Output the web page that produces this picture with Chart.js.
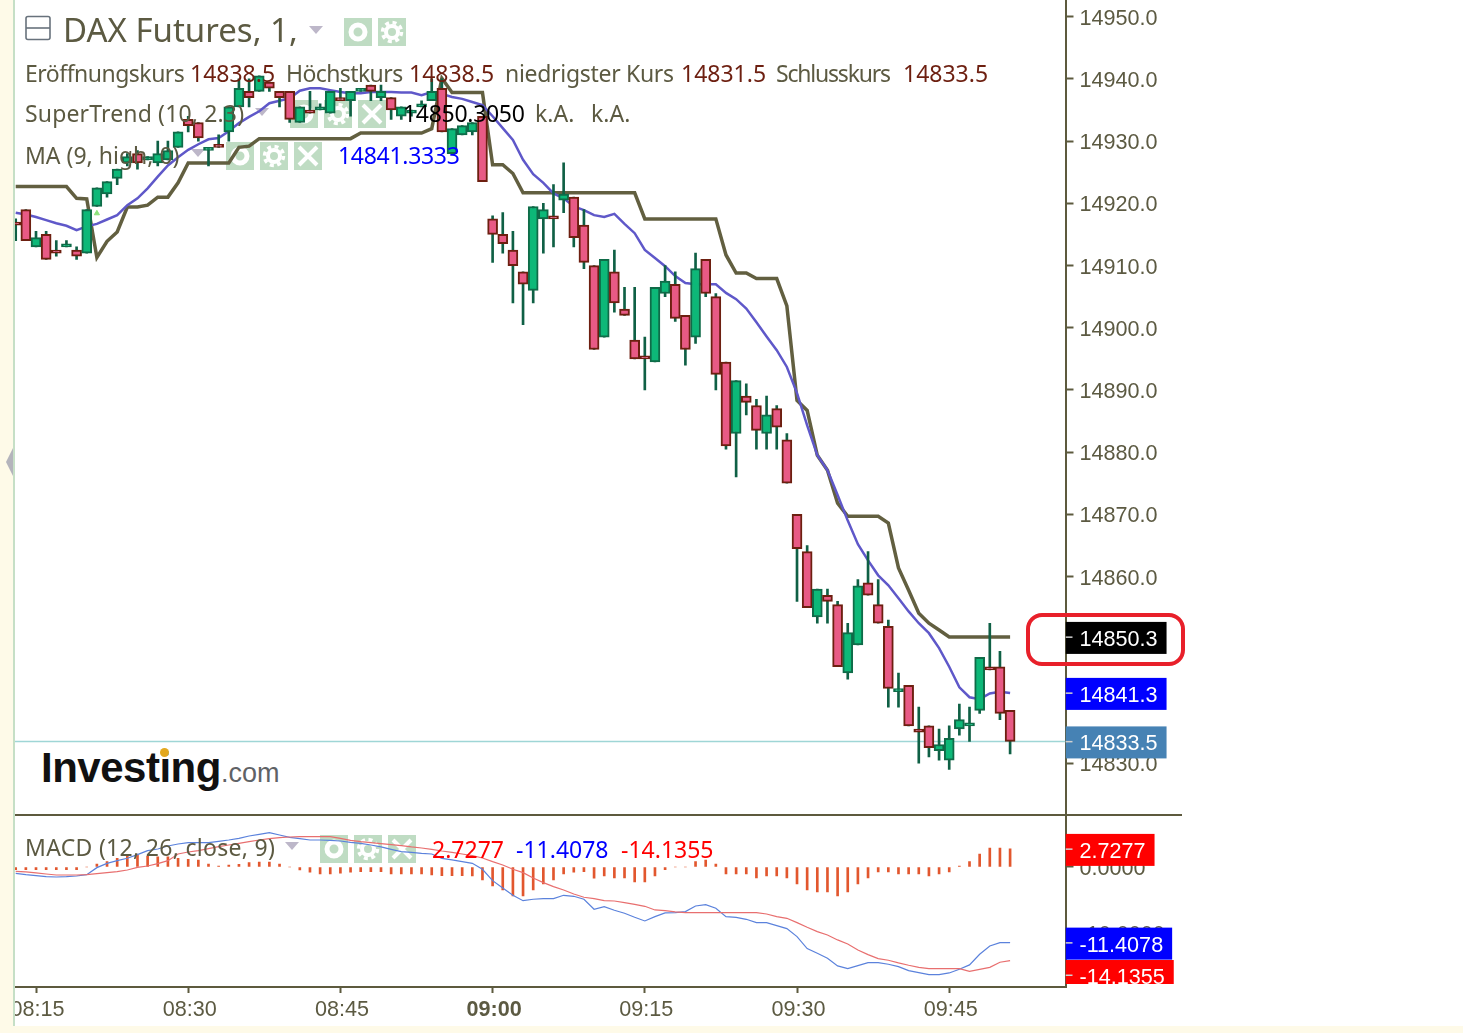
<!DOCTYPE html>
<html>
<head>
<meta charset="utf-8">
<title>DAX Futures</title>
<script src="https://cdn.jsdelivr.net/npm/chart.js@4"></script>
<style>
  html, body { margin: 0; padding: 0; background: #fff; width: 1463px; height: 1033px; overflow: hidden; }
  canvas { position: absolute; left: 0; z-index: 2; }
  .layer-back { position: absolute; z-index: 1; }
  .layer-front { position: absolute; z-index: 3; }
  .lg { font-family: "Noto Sans", sans-serif; font-size: 23px; color: #5c5a42; white-space: nowrap; line-height: 30px; }
  .val { color: #6d1f10; }
  .caret { width: 0; height: 0; border-left: 7px solid transparent; border-right: 7px solid transparent; border-top: 8px solid #bdb7c9; }
</style>
</head>
<body>

<canvas id="priceChart" width="1463" height="815" style="top:0"></canvas>
<canvas id="macdChart" width="1463" height="218" style="top:815px"></canvas>

<!-- page furniture round the charts -->
<div class="layer-front" style="left:0;top:0;width:13px;height:1033px;background:#fefae8"></div>
<div class="layer-front" style="left:13px;top:0;width:2px;height:1033px;background:#c6dfc6"></div>
<div class="layer-front" style="left:0;top:1026px;width:1463px;height:7px;background:#fefae8"></div>
<div class="layer-front" style="left:6px;top:448px;width:7px;height:28px;background:#b4b4bc;clip-path:polygon(100% 0,100% 100%,0 50%)"></div>
<div class="layer-front" style="left:15px;top:814px;width:1167px;height:2px;background:#5d5a3e"></div>
<div class="layer-front" style="left:1026px;top:613px;width:151px;height:45px;border:4px solid #e8202a;border-radius:16px"></div>

<!-- icons sit behind the candles -->
<svg class="layer-back" style="left:0;top:0" width="1100" height="900">
  <defs>
    <g id="eye"><rect width="28" height="28" fill="#bfdcc3"/><circle cx="14" cy="14" r="7" fill="none" stroke="#fff" stroke-width="5"/></g>
    <g id="gear"><rect width="28" height="28" fill="#bfdcc3"/><circle cx="14" cy="14" r="6" fill="none" stroke="#fff" stroke-width="4"/><circle cx="14" cy="14" r="9.5" fill="none" stroke="#fff" stroke-width="3.5" stroke-dasharray="4 3.5"/></g>
    <g id="cross"><rect width="28" height="28" fill="#bfdcc3"/><path d="M5 5L23 23M23 5L5 23" stroke="#fff" stroke-width="4"/></g>
  </defs>
  <use href="#eye" x="344" y="18"/><use href="#gear" x="378" y="18"/>
  <use href="#eye" x="290" y="100"/><use href="#gear" x="324" y="100"/><use href="#cross" x="358" y="100"/>
  <use href="#eye" x="226" y="142"/><use href="#gear" x="260" y="142"/><use href="#cross" x="294" y="142"/>
  <use href="#eye" x="320" y="835"/><use href="#gear" x="354" y="835"/><use href="#cross" x="388" y="835"/>
  <rect x="26" y="16.5" width="24" height="23" rx="2" fill="none" stroke="#68727c" stroke-width="1.6"/>
  <path d="M26 28H50" stroke="#68727c" stroke-width="1.6"/>
</svg>
<div class="caret layer-back" style="left:309px;top:26px"></div>
<div class="caret layer-back" style="left:255px;top:108px"></div>
<div class="caret layer-back" style="left:191px;top:149px"></div>
<div class="caret layer-back" style="left:285px;top:842px"></div>

<!-- legend text -->
<div class="lg layer-front" style="left:63px;top:11px;font-size:33px;line-height:38px">DAX Futures, 1,</div>
<div class="lg layer-front" style="left:25px;top:58px;letter-spacing:-0.5px">Eröffnungskurs</div>
<div class="lg layer-front val" style="left:190px;top:58px">14838.5</div>
<div class="lg layer-front" style="left:286px;top:58px;letter-spacing:-0.6px">Höchstkurs</div>
<div class="lg layer-front val" style="left:409px;top:58px">14838.5</div>
<div class="lg layer-front" style="left:505px;top:58px;letter-spacing:-0.3px">niedrigster Kurs</div>
<div class="lg layer-front val" style="left:681px;top:58px">14831.5</div>
<div class="lg layer-front" style="left:776px;top:58px;letter-spacing:-1.2px">Schlusskurs</div>
<div class="lg layer-front val" style="left:903px;top:58px">14833.5</div>
<div class="lg layer-front" style="left:25px;top:98px;letter-spacing:0.15px">SuperTrend (10, 2.3)</div>
<div class="lg layer-front" style="left:403px;top:98px;color:#000;letter-spacing:-0.3px">14850.3050</div>
<div class="lg layer-front" style="left:535px;top:98px">k.A.</div>
<div class="lg layer-front" style="left:591px;top:98px">k.A.</div>
<div class="lg layer-front" style="left:25px;top:140px">MA (9, high, 0)</div>
<div class="lg layer-front" style="left:338px;top:140px;color:#0000ff;letter-spacing:-0.3px">14841.3333</div>
<div class="lg layer-front" style="left:25px;top:832px;letter-spacing:0.3px">MACD (12, 26, close, 9)</div>
<div class="lg layer-front" style="left:432px;top:834px;color:#ff0000">2.7277</div>
<div class="lg layer-front" style="left:516px;top:834px;color:#0000ff">-11.4078</div>
<div class="lg layer-front" style="left:621px;top:834px;color:#ff0000">-14.1355</div>

<!-- investing.com mark -->
<div class="layer-back" style="left:41px;top:742px;font-family:'Liberation Sans',sans-serif;font-weight:bold;font-size:42px;letter-spacing:-0.5px;color:#111;line-height:52px;white-space:nowrap">Investing<span style="font-weight:normal;font-size:27px;letter-spacing:0;color:#5f6266">.com</span></div>
<div class="layer-back" style="left:160px;top:748px;width:9px;height:9px;border-radius:50%;background:#e3a81f"></div>

<script>
const times = [
  "08:13","08:14","08:15","08:16","08:17","08:18","08:19","08:20","08:21","08:22",
  "08:23","08:24","08:25","08:26","08:27","08:28","08:29","08:30","08:31","08:32",
  "08:33","08:34","08:35","08:36","08:37","08:38","08:39","08:40","08:41","08:42",
  "08:43","08:44","08:45","08:46","08:47","08:48","08:49","08:50","08:51","08:52",
  "08:53","08:54","08:55","08:56","08:57","08:58","08:59","09:00","09:01","09:02",
  "09:03","09:04","09:05","09:06","09:07","09:08","09:09","09:10","09:11","09:12",
  "09:13","09:14","09:15","09:16","09:17","09:18","09:19","09:20","09:21","09:22",
  "09:23","09:24","09:25","09:26","09:27","09:28","09:29","09:30","09:31","09:32",
  "09:33","09:34","09:35","09:36","09:37","09:38","09:39","09:40","09:41","09:42",
  "09:43","09:44","09:45","09:46","09:47","09:48","09:49","09:50","09:51"
];
const opens = [
  14917,14919,14913,14915,14912.5,14913,14912.5,14912,14919.5,14921.5,
  14924,14926.5,14928,14927,14926.5,14927,14929,14933.5,14933,14928.5,
  14929.5,14931.5,14935.5,14938,14938,14939.5,14938,14938,14933,14935,
  14935,14934.5,14937,14936.5,14938,14939,14937,14937,14934,14934.5,
  14935.5,14936.5,14938.5,14928,14931,14931.5,14934,14917.5,14915,14912.5,
  14909,14906,14917.5,14918,14920.5,14921,14916.5,14910,14898.5,14909,
  14903,14898,14895.5,14894.5,14905.5,14907,14902,14898.5,14911,14905,
  14894.5,14883,14889,14887.5,14883,14887,14882,14870,14864,14853.5,
  14857,14855.5,14844.5,14849,14859,14855.5,14852,14841.5,14842.5,14835.5,
  14836,14832,14830.5,14835.5,14836,14838.5,14845.5,14845.5,14838.5
];
const closes = [
  14916.5,14914,14914.5,14911,14912,14913.5,14911.5,14919,14922.5,14923.5,
  14925.5,14927.5,14926.5,14927.5,14928,14928.5,14931.5,14932.5,14930.5,14929,
  14929,14935.5,14938.5,14937,14940.5,14938.5,14937,14933.5,14935.5,14934.5,
  14935.5,14938,14936.5,14938,14938.5,14938,14938,14935,14935.5,14935,
  14936,14938,14931.5,14932,14932.5,14933,14923.5,14915,14913.5,14910,
  14907,14919.5,14919,14917.5,14921.5,14914.5,14910.5,14896.5,14911,14904,
  14902,14895,14895,14906.5,14907.5,14901.5,14896.5,14909.5,14905.5,14892.5,
  14881,14891.5,14888,14883.5,14886,14884,14875,14864.5,14855,14858,
  14856,14845.5,14851,14858.5,14857,14852.5,14842,14842,14836,14835,
  14832.5,14833,14834,14837,14836.5,14847,14845,14838,14833.5
];
const highs = [
  14917.5,14919,14915.5,14915.5,14914,14914,14913,14919,14922.5,14923.5,
  14925.5,14928,14928.5,14927.5,14930,14930,14931.5,14934,14933,14929,
  14931,14935.5,14940,14940,14940.5,14939.5,14938,14938,14935.5,14938,
  14936,14938,14938.5,14938,14938.5,14939,14939,14937,14935.5,14935,
  14936.5,14940,14940,14932,14932.5,14933,14934,14918,14918.5,14915.5,
  14909,14919.5,14920,14923,14926.5,14921,14919,14910,14911,14912.5,
  14906.5,14906.5,14898.5,14906.5,14910,14909,14902,14912,14911,14905.5,
  14894.5,14891.5,14891,14888.5,14889,14887.5,14883,14870,14865,14858,
  14858,14856,14852.5,14859.5,14864,14859.5,14853,14844.5,14842.5,14839,
  14836,14835.5,14836,14839.5,14839,14847,14852.5,14848,14838.5
];
const lows = [
  14914,14914,14913,14911,14911.5,14913,14911,14912,14919.5,14921,
  14923,14926,14925.5,14927,14926,14927,14929,14931.5,14930,14926,
  14929,14930,14935.5,14935.5,14938,14938,14935.5,14933,14933,14934.5,
  14935,14934.5,14936.5,14934,14938,14936.5,14936.5,14933.5,14933.5,14934,
  14935.5,14936.5,14931.5,14928,14931,14931,14923.5,14910.5,14912,14904,
  14900.5,14904,14912,14913,14918.5,14913,14909.5,14896.5,14898.5,14902.5,
  14902,14895,14890,14894.5,14905,14901,14894,14897.5,14905,14890,
  14880.5,14876,14886,14880.5,14880.5,14880.5,14875,14856,14855,14852.5,
  14852.5,14845.5,14843.5,14849,14857,14852.5,14839,14839,14836,14830,
  14831,14830.5,14829,14834.5,14833.5,14838,14845,14837,14831.5
];
const superTrend = [
  14922.7,14922.7,14922.7,14922.7,14922.7,14922.7,14920.8,14920.7,14911.3,14913.9,
  14915.4,14919.4,14919.4,14919.7,14921,14921,14923.3,14926.5,14926.5,14926.5,
  14926.5,14926.5,14929,14929.2,14930.4,14930.4,14930.4,14930.4,14930.4,14930.4,
  14930.4,14930.4,14930.4,14930.4,14931.3,14931.3,14931.3,14931.3,14931.3,14931.3,
  14931.3,14932,14940.1,14937.8,14937.8,14937.8,14937.8,14926.2,14926.2,14924.8,
  14921.7,14921.7,14921.7,14921.7,14921.7,14921.7,14921.7,14921.7,14921.7,14921.7,
  14921.7,14921.7,14917.5,14917.5,14917.5,14917.5,14917.5,14917.5,14917.5,14917.5,
  14911.7,14908.8,14908.8,14907.9,14907.9,14907.9,14903.5,14888.3,14886.7,14879.5,
  14877.1,14871.8,14869.7,14869.7,14869.7,14869.7,14868.6,14861.4,14857.8,14854.1,
  14852.5,14851.4,14850.3,14850.3,14850.3,14850.3,14850.3,14850.3,14850.3
];
const movingAverage = [
  14918.5,14918.2,14917.8,14917.3,14916.8,14916.4,14915.7,14916.3,14916.7,14917.4,
  14918.1,14919.7,14920.8,14922.4,14924.3,14926.1,14927.4,14928.6,14929.5,14930.3,
  14930.5,14931.6,14932.9,14933.9,14934.8,14936.1,14936.5,14936.9,14938.1,14938.5,
  14938.5,14938.2,14937.9,14937.7,14937.7,14937.9,14937.9,14937.9,14937.8,14937.8,
  14937.4,14937.9,14937.6,14937.1,14936.8,14936.3,14935.8,14934,14932.1,14930.2,
  14927,14924.7,14923.3,14921.6,14920.8,14919.5,14918.9,14918.1,14917.8,14918.3,
  14916.7,14915.2,14912.5,14911.2,14909.9,14908.3,14907.2,14907,14907,14907,
  14905.6,14904.6,14903.1,14900.9,14898.6,14896.4,14893.7,14889.5,14884.3,14879.5,
  14877.1,14873.1,14869,14865.2,14862.6,14860.2,14858.6,14856.5,14854.4,14852.5,
  14850.9,14848.5,14845.5,14842.2,14840.6,14840.3,14841.2,14841.5,14841.3
];
const macdLine = [
  -0.95,-1.16,-1.31,-1.46,-1.51,-1.46,-1.36,-1.16,-0.1,0.55,
  0.95,1.31,1.86,2.46,2.71,3.17,3.47,3.67,3.67,3.67,
  3.87,4.07,4.32,4.67,4.92,5.18,4.82,4.47,4.27,4.07,
  4.07,4.02,3.92,3.72,3.57,3.32,3.02,2.66,2.31,2.21,
  2.06,1.96,1.31,1.06,0.8,0.55,-0.35,-2.06,-3.17,-4.27,
  -5.08,-4.87,-4.77,-4.77,-4.27,-4.42,-4.87,-6.38,-5.98,-6.53,
  -6.98,-7.59,-8.14,-7.49,-6.93,-6.88,-6.73,-5.88,-5.68,-6.23,
  -7.49,-7.59,-7.89,-8.39,-8.39,-8.84,-9.3,-10.5,-12.31,-13.02,
  -13.77,-14.92,-15.33,-14.87,-14.42,-14.42,-14.67,-15.03,-15.63,-15.93,
  -16.23,-16.23,-15.98,-15.43,-14.77,-13.17,-11.91,-11.41,-11.4078
];
const signalLine = [
  -0.65,-0.75,-0.9,-1.06,-1.21,-1.21,-1.21,-1.16,-1,-0.85,
  -0.7,-0.45,-0.05,0.15,0.5,0.95,1.96,2.26,2.46,2.76,
  3.07,3.32,3.57,3.82,4.07,4.27,4.42,4.52,4.57,4.57,
  4.57,4.57,4.32,4.02,3.82,3.67,3.52,3.37,3.22,3.02,
  2.86,2.66,2.41,2.21,1.96,1.71,1.36,0.8,0.3,-0.35,
  -0.85,-1.66,-2.36,-2.96,-3.47,-4.07,-4.57,-4.77,-5.08,-5.13,
  -5.38,-5.63,-5.93,-6.48,-6.58,-6.78,-6.88,-6.88,-6.88,-6.88,
  -6.88,-6.88,-6.88,-6.88,-7.09,-7.49,-7.74,-8.39,-9.1,-9.75,
  -10.25,-11,-11.61,-12.51,-13.22,-13.82,-14.07,-14.47,-14.82,-15.13,
  -15.33,-15.33,-15.33,-15.33,-15.73,-15.43,-15.13,-14.37,-14.1355
];
const histogram = [
  -0.4,-0.4,-0.4,-0.4,-0.4,-0.4,-0.4,0,0.45,0.8,
  1.3,1.65,1.8,1.65,1.55,1.55,1.3,1.15,1.05,0.45,
  0.15,0.3,0.4,0.65,0.75,0.75,0.45,0,-0.45,-0.8,
  -1.05,-1.05,-0.95,-0.8,-0.7,-0.7,-0.7,-1.05,-1.05,-1.05,
  -1.05,-1.2,-1.3,-1.3,-1.3,-1.35,-1.95,-2.85,-3.45,-4.35,
  -4.35,-3.45,-2.55,-1.95,-1.05,-0.8,-0.7,-1.7,-1.35,-1.65,
  -1.65,-2.25,-2.25,-1.35,-0.4,0,0,0.8,1.05,0.45,
  -1.05,-1.05,-1.05,-1.65,-1.35,-1.35,-1.65,-2.55,-3.45,-3.75,
  -3.75,-4.35,-3.75,-2.55,-1.65,-0.75,-0.75,-1.05,-1.05,-1.05,
  -1.35,-1.05,-0.75,0.15,0.8,1.95,2.85,2.85,2.7277
];
const lastClose = 14833.5;
const buySignal = [["08:21", 14918.4]];
const priceTags = [14850.3, 14841.3, 14833.5];
const macdTags = [2.7277, -11.4078, -14.1355];

const axisColor = "#5d5a3e";
const textColor = "#5c5a42";
const tickFont = { family: "Liberation Sans", size: 21.6 };

// minutes since 08:00, this is what the x axes run on
function toMinute(t) {
  const p = t.split(":");
  return (Number(p[0]) - 8) * 60 + Number(p[1]);
}
function minuteLabel(m) {
  const h = 8 + Math.floor(m / 60), mm = m % 60;
  return String(h).padStart(2, "0") + ":" + String(mm).padStart(2, "0");
}
function series(values) {
  return times.map((t, i) => ({ x: toMinute(t), y: values[i] }));
}

const xMin = 12.93, xMax = 116.46;

// the y axes must not reserve room for half a tick label
function fitRightAxis(s) {
  s.width = 397.5;
  s.paddingTop = 0;
  s.paddingBottom = 0;
}

function tagPlugin(id, scaleId, values, colors, digits, shifts) {
  return {
    id: id,
    afterDraw(chart) {
      const ctx = chart.ctx, scale = chart.scales[scaleId];
      const left = chart.chartArea.right;
      ctx.save();
      ctx.font = "21.6px 'Liberation Sans'";
      ctx.textBaseline = "middle";
      values.forEach((v, i) => {
        const tickY = scale.getPixelForValue(v) + shifts[i];
        const label = v.toFixed(digits);
        const w = 14 + ctx.measureText(label).width + 9;
        ctx.save();
        ctx.beginPath();
        ctx.rect(left, 0, 400, chart.chartArea.bottom - 3);
        ctx.clip();
        ctx.fillStyle = colors[i];
        ctx.fillRect(left, tickY - 15, w, 32);
        ctx.fillStyle = "#d0d0d0";
        ctx.fillRect(left, tickY - 0.5, 7, 1.5);
        ctx.fillStyle = "#fff";
        ctx.fillText(label, left + 14, tickY + 3);
        ctx.restore();
      });
      ctx.restore();
    }
  };
}

new Chart(document.getElementById("priceChart"), {
  type: "bar",
  data: {
    datasets: [
      {
        type: "line", order: 5, data: [{ x: xMin, y: lastClose }, { x: xMax, y: lastClose }],
        borderColor: "#9fd6d6", borderWidth: 1.5, pointRadius: 0
      },
      {
        type: "line", order: 4, data: series(superTrend),
        borderColor: "#625f40", borderWidth: 3.5, pointRadius: 0, tension: 0
      },
      {
        type: "line", order: 3, data: series(movingAverage),
        borderColor: "#5f58c9", borderWidth: 2.5, pointRadius: 0, tension: 0
      },
      {
        type: "line", order: 3, data: buySignal.map(s => ({ x: toMinute(s[0]), y: s[1] })),
        showLine: false, pointStyle: "triangle", pointRadius: 3, backgroundColor: "#8be27a", borderColor: "#8be27a"
      },
      {
        order: 2, barThickness: 2, grouped: false,
        data: times.map((t, i) => ({ x: toMinute(t), y: [lows[i], highs[i]] })),
        backgroundColor: "#0f6045"
      },
      {
        order: 1, barThickness: 10, grouped: false,
        data: times.map((t, i) => ({ x: toMinute(t), y: [opens[i], closes[i]] })),
        backgroundColor: closes.map((c, i) => c >= opens[i] ? "#0db878" : "#e85a85"),
        borderColor: closes.map((c, i) => c >= opens[i] ? "#0f6b48" : "#6d1f10"),
        borderWidth: 2, borderSkipped: false
      }
    ]
  },
  options: {
    responsive: false,
    animation: false,
    layout: { autoPadding: false, padding: { left: 15, top: 0, right: 0, bottom: 0 } },
    plugins: { legend: { display: false }, tooltip: { enabled: false } },
    scales: {
      x: { type: "linear", min: xMin, max: xMax, display: false, offset: false, grid: { offset: false } },
      y: {
        position: "right", min: 14821.67, max: 14952.69,
        afterFit: fitRightAxis,
        border: { color: axisColor, width: 2 },
        grid: { drawOnChartArea: false, tickLength: 8, color: axisColor, tickWidth: 2 },
        ticks: {
          stepSize: 10, includeBounds: false, autoSkip: false, padding: 6, labelOffset: 2,
          color: textColor, font: tickFont, callback: v => v.toFixed(1)
        }
      }
    }
  },
  plugins: [tagPlugin("priceTags", "y", priceTags, ["#000000", "#0000ff", "#4682b4"], 1, [0, 0, 0])]
});

new Chart(document.getElementById("macdChart"), {
  type: "bar",
  data: {
    datasets: [
      {
        type: "line", order: 2, data: series(macdLine),
        borderColor: "#5b82dc", borderWidth: 1.2, pointRadius: 0, tension: 0
      },
      {
        type: "line", order: 1, data: series(signalLine),
        borderColor: "#e86f6f", borderWidth: 1.2, pointRadius: 0, tension: 0
      },
      {
        order: 3, barThickness: 2, data: series(histogram),
        backgroundColor: "#e2572e"
      }
    ]
  },
  options: {
    responsive: false,
    animation: false,
    layout: { autoPadding: false, padding: { left: 15, top: 0, right: 0, bottom: 0 } },
    plugins: { legend: { display: false }, tooltip: { enabled: false } },
    scales: {
      x: {
        type: "linear", min: xMin, max: xMax, offset: false,
        afterFit(s) { s.height = 46; },
        border: { color: axisColor, width: 2 },
        grid: { offset: false, drawOnChartArea: false, tickLength: 6, color: axisColor, tickWidth: 2 },
        ticks: {
          stepSize: 15, includeBounds: false, autoSkip: false, maxRotation: 0, padding: 4, labelOffset: 1.5,
          color: textColor, callback: v => minuteLabel(v),
          font: c => ({ family: "Liberation Sans", size: 21.6, weight: c.tick && c.tick.value === 60 ? "bold" : "normal" })
        }
      },
      y: {
        position: "right", min: -18.1, max: 7.84,
        afterFit: fitRightAxis,
        border: { color: axisColor, width: 2 },
        grid: { drawOnChartArea: false, tickLength: 8, color: axisColor, tickWidth: 2 },
        ticks: {
          stepSize: 10, includeBounds: false, autoSkip: false, padding: 6, labelOffset: 2,
          color: textColor, font: tickFont, callback: v => v.toFixed(4)
        }
      }
    }
  },
  plugins: [tagPlugin("macdTags", "y", macdTags, ["#ff0000", "#0000ff", "#ff0000"], 4, [0, 0, 14.3])]
});
</script>
</body>
</html>
